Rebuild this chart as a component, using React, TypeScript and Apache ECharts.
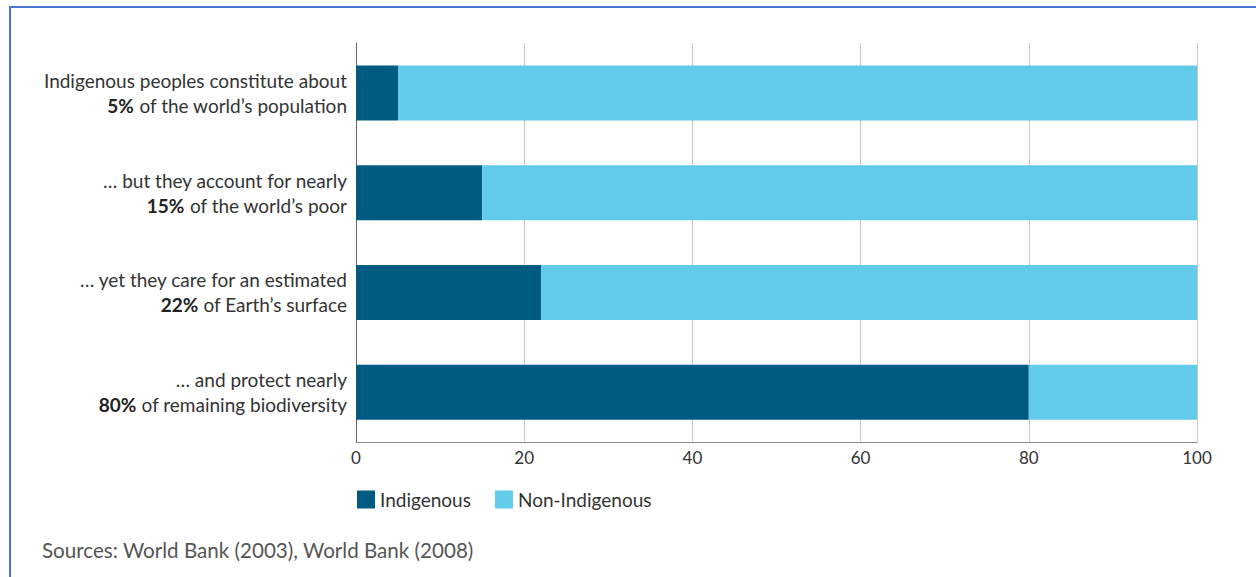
import React, { useEffect, useRef } from "react";
import * as echarts from "echarts";

const leadLines = [
  "Indigenous peoples constitute about",
  "… but they account for nearly",
  "… yet they care for an estimated",
  "… and protect nearly",
];
const percentLabels = ["5%", "15%", "22%", "80%"];
const tailLines = [
  " of the world’s population",
  " of the world’s poor",
  " of Earth’s surface",
  " of remaining biodiversity",
];
const indigenous = [5, 15, 22, 80];
const nonIndigenous = [95, 85, 78, 20];
const seriesNames = ["Indigenous", "Non-Indigenous"];
const sourceText = "Sources: World Bank (2003), World Bank (2008)";

const FONT = "Lato";

export default function App() {
  const ref = useRef<HTMLDivElement>(null);
  useEffect(() => {
    if (!ref.current) return;
    const chart = echarts.init(ref.current, undefined, { renderer: "svg" });
    const categories = leadLines.map((_, i) => String(i));
    chart.setOption({
      animation: false,
      backgroundColor: "#ffffff",
      textStyle: { fontFamily: FONT },
      grid: { left: 356, right: 59, top: 43, bottom: 135, containLabel: false },
      legend: {
        left: 357,
        top: 490,
        padding: 0,
        itemWidth: 18,
        itemHeight: 18,
        itemGap: 24,
        icon: "rect",
        textStyle: { fontFamily: FONT, fontSize: 19, color: "#333" },
        data: seriesNames,
      },
      xAxis: {
        type: "value",
        min: 0,
        max: 100,
        interval: 20,
        axisLine: { show: true, lineStyle: { color: "#888", width: 1 } },
        axisTick: { show: false },
        axisLabel: { fontFamily: FONT, fontSize: 17, color: "#333", margin: 7 },
        splitLine: { show: true, lineStyle: { color: "#c8c8c8", width: 1 } },
      },
      yAxis: {
        type: "category",
        inverse: true,
        data: categories,
        axisLine: { show: true, lineStyle: { color: "#666", width: 1 } },
        axisTick: { show: false },
        axisLabel: {
          margin: 9,
          align: "right",
          formatter: (v: string) => {
            const i = Number(v);
            return `{n|${leadLines[i]}}\n{b|${percentLabels[i]}}{n|${tailLines[i]}}`;
          },
          rich: {
            n: { fontFamily: FONT, fontSize: 19, color: "#333", lineHeight: 25 },
            b: { fontFamily: FONT, fontSize: 19, color: "#222", fontWeight: "bold", lineHeight: 25 },
          },
        },
      },
      series: [
        {
          name: seriesNames[0],
          type: "bar",
          stack: "total",
          barWidth: 55,
          itemStyle: { color: "#005b82" },
          data: indigenous,
        },
        {
          name: seriesNames[1],
          type: "bar",
          stack: "total",
          barWidth: 55,
          itemStyle: { color: "#63cbea" },
          data: nonIndigenous,
        },
      ],
      graphic: [
        {
          type: "line",
          shape: { x1: 9, y1: 7, x2: 1256, y2: 7 },
          style: { stroke: "#4a74d4", lineWidth: 2 },
        },
        {
          type: "line",
          shape: { x1: 10, y1: 6, x2: 10, y2: 577 },
          style: { stroke: "#4a74d4", lineWidth: 2 },
        },
        {
          type: "text",
          left: 42,
          top: 539,
          style: { text: sourceText, fontFamily: FONT, fontSize: 20.6, fill: "#555" },
        },
      ],
    });
    return () => chart.dispose();
  }, []);
  return (
    <div
      ref={ref}
      style={{ position: "fixed", left: 0, top: 0, width: 1256, height: 577 }}
    />
  );
}
